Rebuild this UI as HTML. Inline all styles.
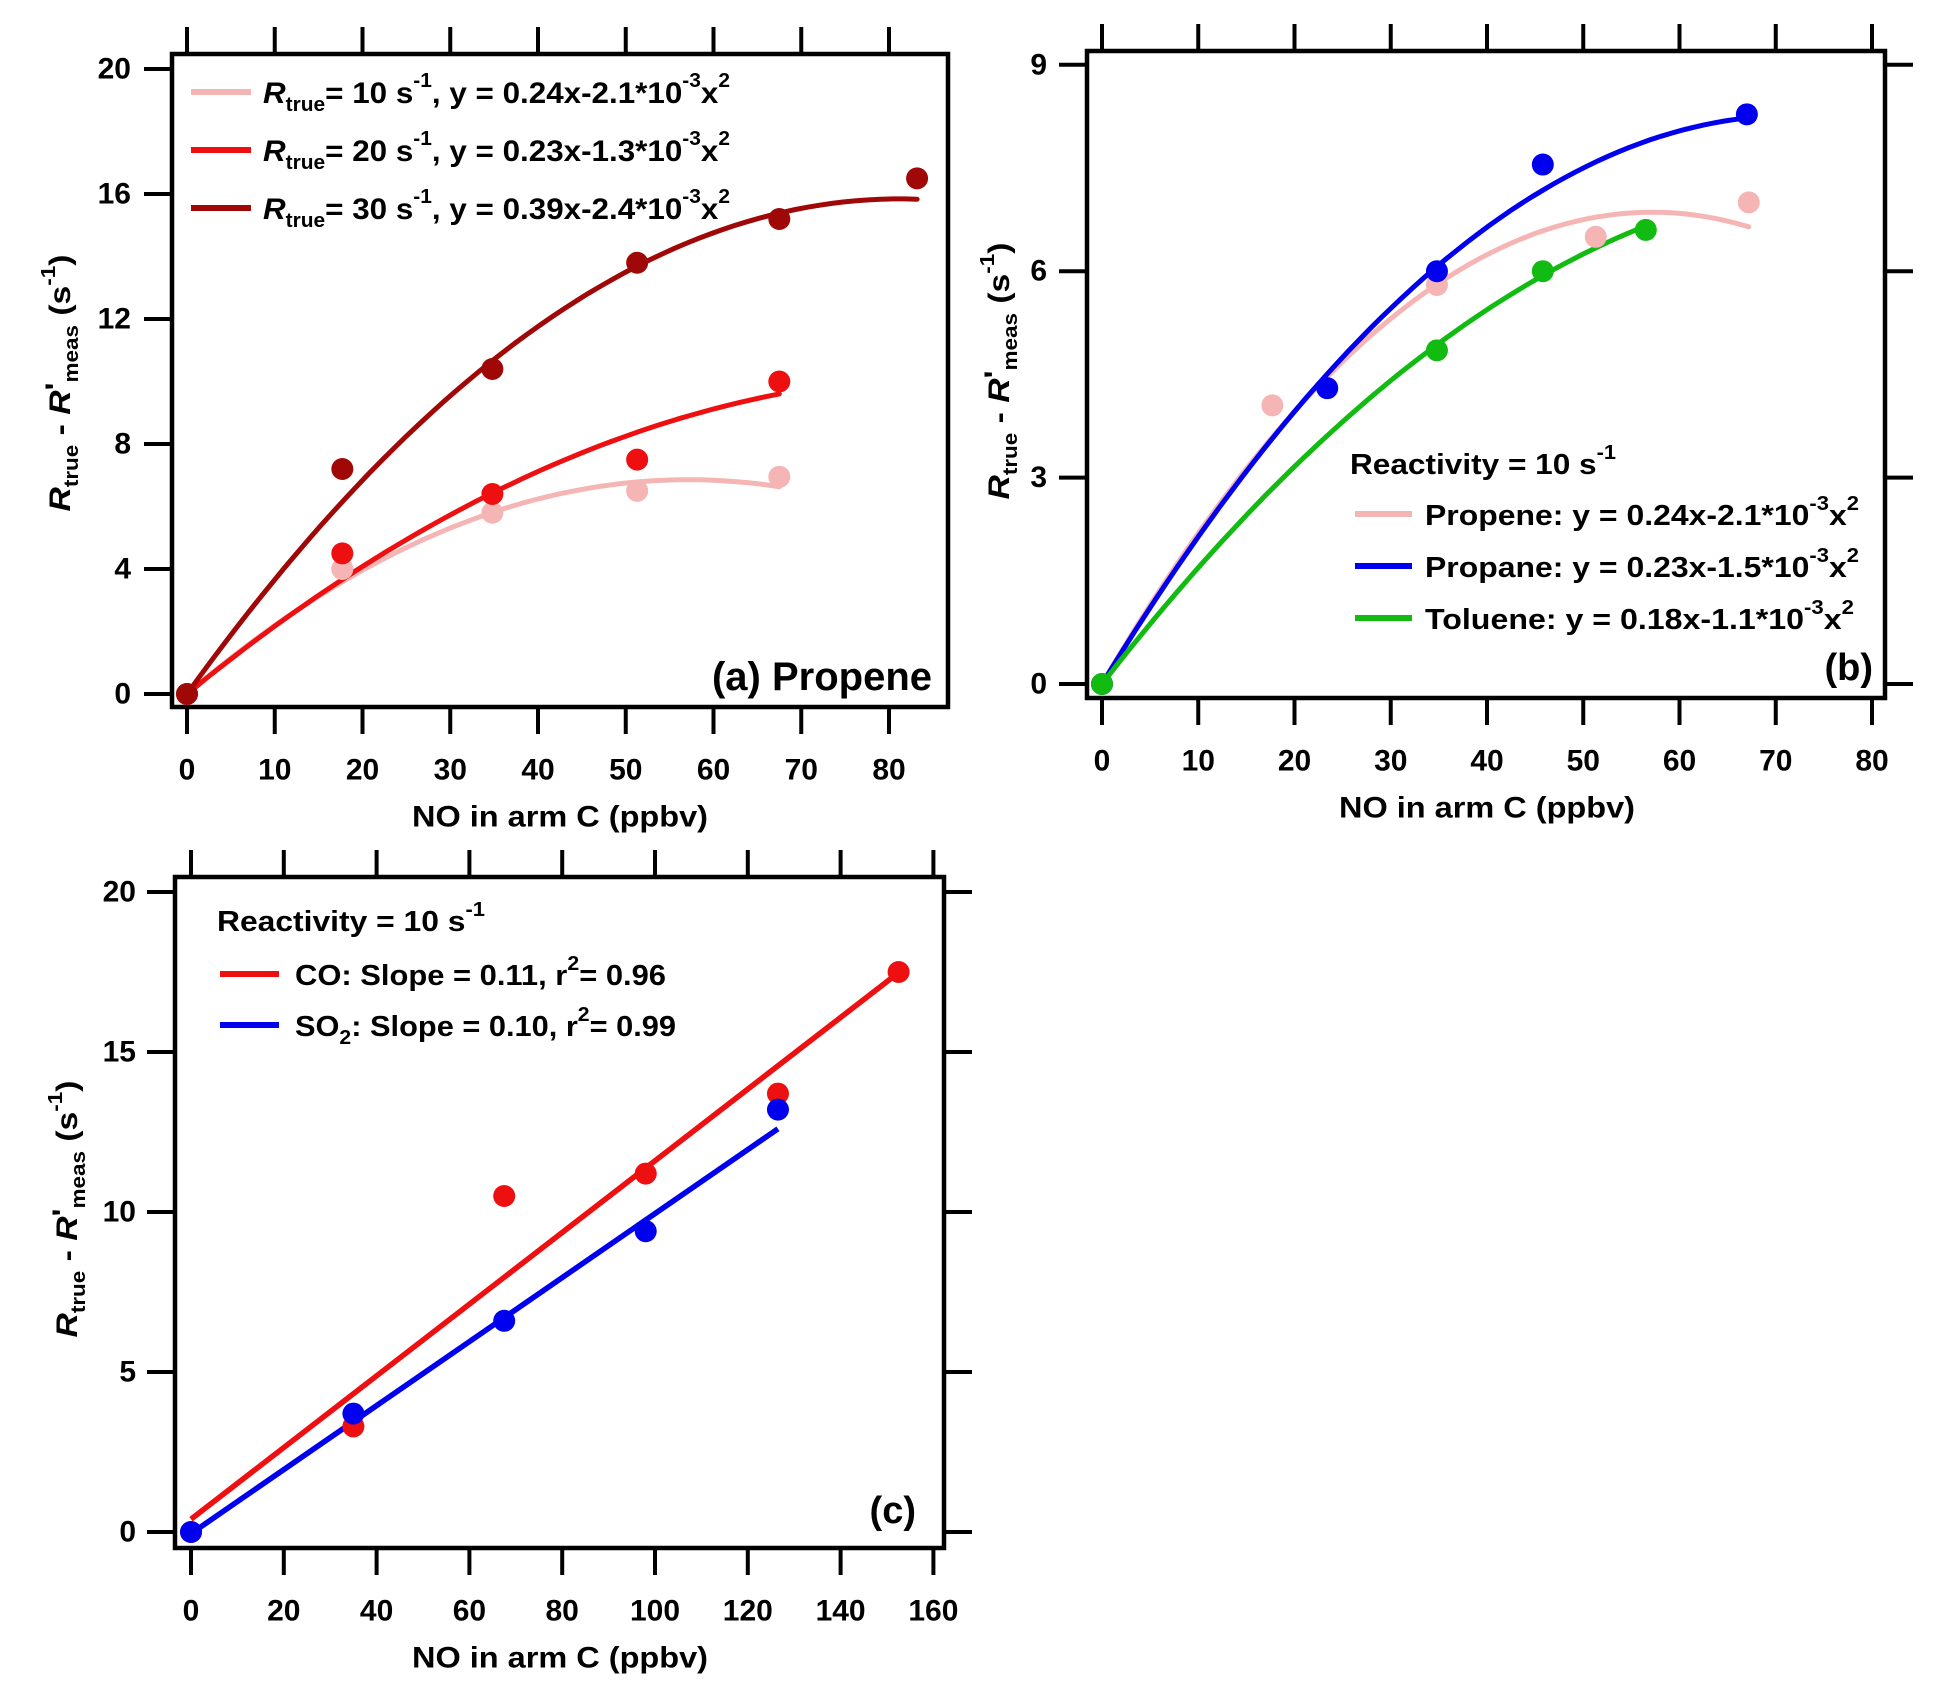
<!DOCTYPE html>
<html><head><meta charset="utf-8">
<style>
html,body{margin:0;padding:0;background:#fff;}
svg{display:block;font-family:"Liberation Sans",Arial,sans-serif;font-weight:bold;}
</style></head>
<body>
<svg id="fig" width="1939" height="1700" viewBox="0 0 1939 1700" xmlns="http://www.w3.org/2000/svg">
<g id="gA"></g>
<g id="gB"></g>
<g id="gC"></g>

<g>
  <line x1="191" y1="92" x2="251" y2="92" stroke="#f5b5b5" stroke-width="6"/>
  <line x1="191" y1="150" x2="251" y2="150" stroke="#ee1010" stroke-width="6"/>
  <line x1="191" y1="208" x2="251" y2="208" stroke="#a00808" stroke-width="6"/>
  <text x="263" y="103" font-size="30" textLength="467" lengthAdjust="spacingAndGlyphs"><tspan font-style="italic">R</tspan><tspan font-size="20" dy="8">true</tspan><tspan dy="-8">= 10 s</tspan><tspan font-size="20" dy="-16">-1</tspan><tspan dy="16">, y = 0.24x-2.1*10</tspan><tspan font-size="20" dy="-16">-3</tspan><tspan dy="16">x</tspan><tspan font-size="20" dy="-16">2</tspan></text>
  <text x="263" y="161" font-size="30" textLength="467" lengthAdjust="spacingAndGlyphs"><tspan font-style="italic">R</tspan><tspan font-size="20" dy="8">true</tspan><tspan dy="-8">= 20 s</tspan><tspan font-size="20" dy="-16">-1</tspan><tspan dy="16">, y = 0.23x-1.3*10</tspan><tspan font-size="20" dy="-16">-3</tspan><tspan dy="16">x</tspan><tspan font-size="20" dy="-16">2</tspan></text>
  <text x="263" y="219" font-size="30" textLength="467" lengthAdjust="spacingAndGlyphs"><tspan font-style="italic">R</tspan><tspan font-size="20" dy="8">true</tspan><tspan dy="-8">= 30 s</tspan><tspan font-size="20" dy="-16">-1</tspan><tspan dy="16">, y = 0.39x-2.4*10</tspan><tspan font-size="20" dy="-16">-3</tspan><tspan dy="16">x</tspan><tspan font-size="20" dy="-16">2</tspan></text>
  <text x="932" y="690" font-size="40" text-anchor="end">(a) Propene</text>
</g>
<g>
  <text x="1350" y="474" font-size="29" textLength="266" lengthAdjust="spacingAndGlyphs">Reactivity = 10 s<tspan font-size="20" dy="-15">-1</tspan></text>
  <line x1="1355" y1="514" x2="1412" y2="514" stroke="#f5b5b5" stroke-width="6"/>
  <line x1="1355" y1="566" x2="1412" y2="566" stroke="#0000ee" stroke-width="6"/>
  <line x1="1355" y1="618" x2="1412" y2="618" stroke="#11bb11" stroke-width="6"/>
  <text x="1425" y="525" font-size="29" textLength="434" lengthAdjust="spacingAndGlyphs">Propene: y = 0.24x-2.1*10<tspan font-size="20" dy="-15">-3</tspan><tspan dy="15">x</tspan><tspan font-size="20" dy="-15">2</tspan></text>
  <text x="1425" y="577" font-size="29" textLength="434" lengthAdjust="spacingAndGlyphs">Propane: y = 0.23x-1.5*10<tspan font-size="20" dy="-15">-3</tspan><tspan dy="15">x</tspan><tspan font-size="20" dy="-15">2</tspan></text>
  <text x="1425" y="629" font-size="29" textLength="429" lengthAdjust="spacingAndGlyphs">Toluene: y = 0.18x-1.1*10<tspan font-size="20" dy="-15">-3</tspan><tspan dy="15">x</tspan><tspan font-size="20" dy="-15">2</tspan></text>
  <text x="1873" y="680" font-size="38" text-anchor="end">(b)</text>
</g>
<g>
  <text x="217" y="931" font-size="29" textLength="268" lengthAdjust="spacingAndGlyphs">Reactivity = 10 s<tspan font-size="20" dy="-15">-1</tspan></text>
  <line x1="220" y1="974" x2="279" y2="974" stroke="#ee1010" stroke-width="6"/>
  <line x1="220" y1="1025" x2="279" y2="1025" stroke="#0000ee" stroke-width="6"/>
  <text x="295" y="985" font-size="29" textLength="371" lengthAdjust="spacingAndGlyphs">CO: Slope = 0.11, r<tspan font-size="20" dy="-15">2</tspan><tspan dy="15">= 0.96</tspan></text>
  <text x="295" y="1036" font-size="29" textLength="381" lengthAdjust="spacingAndGlyphs">SO<tspan font-size="20" dy="8">2</tspan><tspan dy="-8">: Slope = 0.10, r</tspan><tspan font-size="20" dy="-15">2</tspan><tspan dy="15">= 0.99</tspan></text>
  <text x="916" y="1523" font-size="38" text-anchor="end">(c)</text>
</g>
</svg>
<script>
// ---------- data ----------
const aX10 = [0, 17.7, 34.8, 51.3, 67.5];
const aY10 = [0, 4.0, 5.8, 6.5, 6.95];
const aX20 = [0, 17.7, 34.8, 51.3, 67.5];
const aY20 = [0, 4.5, 6.4, 7.5, 10.0];
const aX30 = [0, 17.7, 34.8, 51.3, 67.5, 83.2];
const aY30 = [0, 7.2, 10.4, 13.8, 15.2, 16.5];
const aFit10 = [0.24, -0.0021];
const aFit20 = [0.23, -0.0013];
const aFit30 = [0.39, -0.0024];

const bXPropene = [0, 17.7, 34.8, 51.3, 67.2];
const bYPropene = [0, 4.05, 5.8, 6.5, 7.0];
const bXPropane = [0, 23.4, 34.8, 45.8, 67.0];
const bYPropane = [0, 4.3, 6.0, 7.55, 8.28];
const bXToluene = [0, 34.8, 45.8, 56.5];
const bYToluene = [0, 4.85, 6.0, 6.6];
const bFitPropene = [0.24, -0.0021];
const bFitPropane = [0.23, -0.0016];
const bFitToluene = [0.18, -0.0011];

const cXCO = [0, 35, 67.5, 98, 126.5, 152.5];
const cYCO = [0, 3.3, 10.5, 11.2, 13.7, 17.5];
const cXSO2 = [0, 35, 67.5, 98, 126.5];
const cYSO2 = [0, 3.7, 6.6, 9.4, 13.2];
const cFitCO = [0.4, 0.112];
const cFitSO2 = [-0.05, 0.1];

const aXTicks = [0,10,20,30,40,50,60,70,80];
const aYTicks = [0,4,8,12,16,20];
const bXTicks = [0,10,20,30,40,50,60,70,80];
const bYTicks = [0,3,6,9];
const cXTicks = [0,20,40,60,80,100,120,140,160];
const cYTicks = [0,5,10,15,20];

// ---------- drawing ----------
const NS = "http://www.w3.org/2000/svg";
function mk(tag, parent, attrs){ const e=document.createElementNS(NS,tag); for(const k in attrs) e.setAttribute(k,attrs[k]); parent.appendChild(e); return e; }

function panel(g, P){
  const sx=v=>P.x0+v*P.xs, sy=v=>P.y0-v*P.ys;
  P.sx=sx; P.sy=sy;
  const fr=mk('rect',g,{x:P.l,y:P.t,width:P.r-P.l,height:P.b-P.t,fill:'none',stroke:'#000','stroke-width':4.5});
  
  
  P.xt.forEach(v=>{
    const t1=mk('line',g,{x1:sx(v),x2:sx(v),y1:P.t-27,y2:P.t,stroke:'#000','stroke-width':4});
    
    
    const t2=mk('line',g,{x1:sx(v),x2:sx(v),y1:P.b,y2:P.b+27,stroke:'#000','stroke-width':4});
    
    
    const lb=mk('text',g,{x:sx(v),y:P.b+63,'font-size':30,'text-anchor':'middle','dominant-baseline':'central'});
    lb.textContent=v;
    
    
  });
  P.yt.forEach(v=>{
    const t1=mk('line',g,{x1:P.l-28,x2:P.l,y1:sy(v),y2:sy(v),stroke:'#000','stroke-width':4});
    
    
    if(P.rt){
      const t2=mk('line',g,{x1:P.r,x2:P.r+28,y1:sy(v),y2:sy(v),stroke:'#000','stroke-width':4});
      
      
    }
    const lb=mk('text',g,{x:P.lx,y:sy(v),'font-size':30,'text-anchor':'end','dominant-baseline':'central'});
    lb.textContent=v;
    
    
  });
  const xt=mk('text',g,{x:P.xtx,y:P.b+110,'font-size':30,'text-anchor':'middle','dominant-baseline':'central',textLength:296,lengthAdjust:'spacingAndGlyphs'});
  xt.textContent='NO in arm C (ppbv)';
  
  
  const yt=mk('text',g,{x:0,y:0,'font-size':30,'text-anchor':'middle',transform:`translate(${P.ytx},${P.yty}) rotate(-90)`,textLength:257,lengthAdjust:'spacingAndGlyphs'});
  yt.innerHTML='<tspan font-style="italic">R</tspan><tspan font-size="20" dy="8">true</tspan><tspan dy="-8"> - </tspan><tspan font-style="italic">R</tspan><tspan dy="-4">\'</tspan><tspan font-size="20" dy="12">meas</tspan><tspan dy="-8"> (s</tspan><tspan font-size="20" dy="-15">-1</tspan><tspan dy="15">)</tspan>';
  
  
}
function quad(g,P,fit,xmax,color,name){
  const pts=[];
  for(let i=0;i<=60;i++){const x=xmax*i/60; pts.push(P.sx(x).toFixed(1)+','+P.sy(fit[0]*x+fit[1]*x*x).toFixed(1));}
  const pl=mk('polyline',g,{points:pts.join(' '),fill:'none',stroke:color,'stroke-width':5,'stroke-linecap':'round'});
  
  
}
function lin(g,P,fit,xmax,color,name){
  const l=mk('line',g,{x1:P.sx(0),y1:P.sy(fit[0]),x2:P.sx(xmax),y2:P.sy(fit[0]+fit[1]*xmax),stroke:color,'stroke-width':5.5});
  
  
}
function dots(g,P,xs,ys,color,name){
  xs.forEach((x,i)=>{
    const c=mk('circle',g,{cx:P.sx(x),cy:P.sy(ys[i]),r:11,fill:color});
    
    
  });
}
const C10='#f5b5b5',C20='#ee1010',C30='#a00808',CB='#0000ee',CG='#11bb11';

const A={x0:187,xs:8.775,y0:694,ys:31.25,l:172,r:948,t:54,b:707,xt:aXTicks,yt:aYTicks,rt:false,lx:131,xtx:560,ytx:70,yty:383};
const gA=document.getElementById('gA'); panel(gA,A);
quad(gA,A,aFit10,aX10[aX10.length-1],C10,'fit-curve-10');
quad(gA,A,aFit20,aX20[aX20.length-1],C20,'fit-curve-20');
quad(gA,A,aFit30,aX30[aX30.length-1],C30,'fit-curve-30');
dots(gA,A,aX10,aY10,C10,'point-10');
dots(gA,A,aX20,aY20,C20,'point-20');
dots(gA,A,aX30,aY30,C30,'point-30');

const B={x0:1102,xs:9.625,y0:684,ys:68.8,l:1087,r:1885,t:51,b:698,xt:bXTicks,yt:bYTicks,rt:true,lx:1047,xtx:1487,ytx:1009,yty:371};
const gB=document.getElementById('gB'); panel(gB,B);
quad(gB,B,bFitPropene,bXPropene[bXPropene.length-1],C10,'fit-curve-propene');
quad(gB,B,bFitPropane,bXPropane[bXPropane.length-1],CB,'fit-curve-propane');
quad(gB,B,bFitToluene,bXToluene[bXToluene.length-1],CG,'fit-curve-toluene');
dots(gB,B,bXPropene,bYPropene,C10,'point-propene');
dots(gB,B,bXPropane,bYPropane,CB,'point-propane');
dots(gB,B,bXToluene,bYToluene,CG,'point-toluene');

const Cc={x0:191,xs:4.64,y0:1532,ys:32,l:175,r:944,t:877,b:1548,xt:cXTicks,yt:cYTicks,rt:true,lx:136,xtx:560,ytx:77,yty:1209};
const gC=document.getElementById('gC'); panel(gC,Cc);
lin(gC,Cc,cFitCO,cXCO[cXCO.length-1],C20,'fit-line-co');
lin(gC,Cc,cFitSO2,cXSO2[cXSO2.length-1],CB,'fit-line-so2');
dots(gC,Cc,cXCO,cYCO,C20,'point-co');
dots(gC,Cc,cXSO2,cYSO2,CB,'point-so2');
</script>
</body></html>
